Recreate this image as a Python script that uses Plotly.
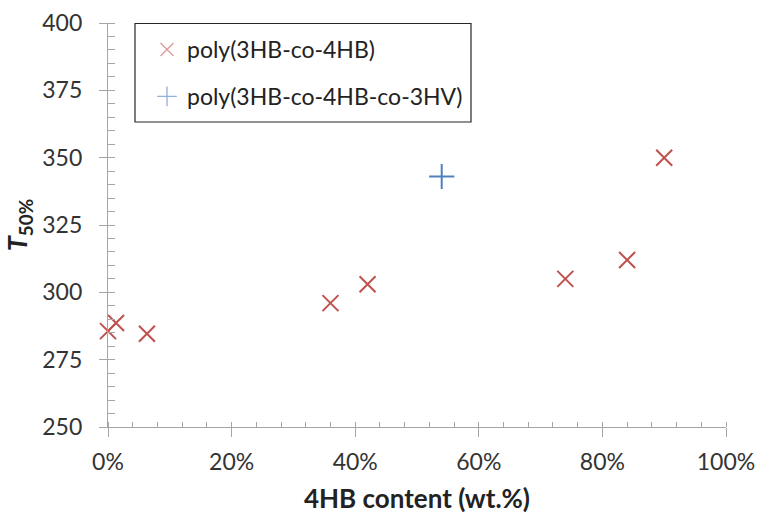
import plotly.graph_objects as go

# Data
x_4hb = [0.0, 0.013, 0.063, 0.36, 0.42, 0.74, 0.84, 0.90]
y_4hb = [285.6, 288.6, 284.6, 296, 303, 305, 312, 350]
x_3hv = [0.54]
y_3hv = [343]
name_4hb = "poly(3HB-co-4HB)"
name_3hv = "poly(3HB-co-4HB-co-3HV)"
x_range = [0, 1]
y_range = [250, 400]

FONT = "Lato"
AXC = "#a6a6a6"
RED = "#c0504d"
BLUE = "#4f81bd"

fig = go.Figure()
# data traces
fig.add_trace(go.Scatter(
    x=x_4hb, y=y_4hb, mode="markers", name=name_4hb, showlegend=False, cliponaxis=False,
    marker=dict(symbol="x-thin", size=16, line=dict(color=RED, width=2), color=RED),
))
fig.add_trace(go.Scatter(
    x=x_3hv, y=y_3hv, mode="markers", name=name_3hv, showlegend=False, cliponaxis=False,
    marker=dict(symbol="cross-thin", size=18, line=dict(color=BLUE, width=2), color=BLUE),
))
# legend entries (lighter, smaller symbols as in the reference legend)
fig.add_trace(go.Scatter(
    x=[None], y=[None], mode="markers", name=name_4hb, legendgroup="a",
    marker=dict(symbol="x-thin", size=13, line=dict(color="#dc9a98", width=1.3), color="#dc9a98"),
))
fig.add_trace(go.Scatter(
    x=[None], y=[None], mode="markers", name=name_3hv, legendgroup="b",
    marker=dict(symbol="cross-thin", size=14, line=dict(color="#8fb0d8", width=1.3), color="#8fb0d8"),
))

L, R, T, B = 108, 32, 23, 88
W = 758 - L - R
H = 515 - T - B

fig.update_layout(
    width=758, height=515,
    margin=dict(l=L, r=R, t=T, b=B),
    paper_bgcolor="white", plot_bgcolor="white",
    font=dict(family=FONT, color="#333333", size=23),
    legend=dict(
        x=(147 - L) / W, y=1 - (28 - T) / H, xanchor="left", yanchor="top",
        bgcolor="rgba(0,0,0,0)", borderwidth=0,
        font=dict(size=23, color="#222222"),
        tracegroupgap=14, itemwidth=30,
    ),
    xaxis=dict(
        range=x_range, tickformat=".0%", dtick=0.2, tick0=0, automargin=False,
        showgrid=False, zeroline=False, showline=True, linecolor=AXC, linewidth=1.3,
        ticks="outside", ticklen=9, tickcolor=AXC, tickwidth=1.3, ticklabelstandoff=5,
        minor=dict(dtick=0.04, ticks="inside", ticklen=5, tickcolor=AXC, tickwidth=1.3, showgrid=False),
        tickfont=dict(size=23, color="#333333"),
        title=dict(text="<b>4HB content (wt.%)</b>", font=dict(size=26, color="#222222"), standoff=16),
    ),
    yaxis=dict(
        range=y_range, dtick=25, tick0=250, automargin=False,
        showgrid=False, zeroline=False, showline=True, linecolor=AXC, linewidth=1.3,
        ticks="outside", ticklen=8, tickcolor=AXC, tickwidth=1.3, ticklabelstandoff=12,
        minor=dict(dtick=5, ticks="inside", ticklen=7, tickcolor=AXC, tickwidth=1.3, showgrid=False),
        tickfont=dict(size=23, color="#333333"),
        title=dict(text="<b><i>T</i><sub>50%</sub></b>", font=dict(size=27, color="#222222"), standoff=12),
    ),
    xaxis2=dict(
        range=x_range, dtick=0.2, tick0=0, overlaying="x", anchor="y", side="bottom",
        showgrid=False, zeroline=False, showline=False, showticklabels=False, automargin=False,
        ticks="inside", ticklen=6, tickcolor=AXC, tickwidth=1.3,
    ),
    yaxis2=dict(
        range=y_range, dtick=25, tick0=250, overlaying="y", anchor="x", side="left",
        showgrid=False, zeroline=False, showline=False, showticklabels=False, automargin=False,
        ticks="inside", ticklen=7, tickcolor=AXC, tickwidth=1.3,
    ),
    shapes=[dict(type="rect", xref="paper", yref="paper",
                 x0=(135 - L) / W, x1=(471 - L) / W, y0=1 - (122 - T) / H, y1=1 - (23.5 - T) / H,
                 line=dict(color="#262626", width=1.2), fillcolor="rgba(0,0,0,0)")],
)

fig.write_html("out.html")
